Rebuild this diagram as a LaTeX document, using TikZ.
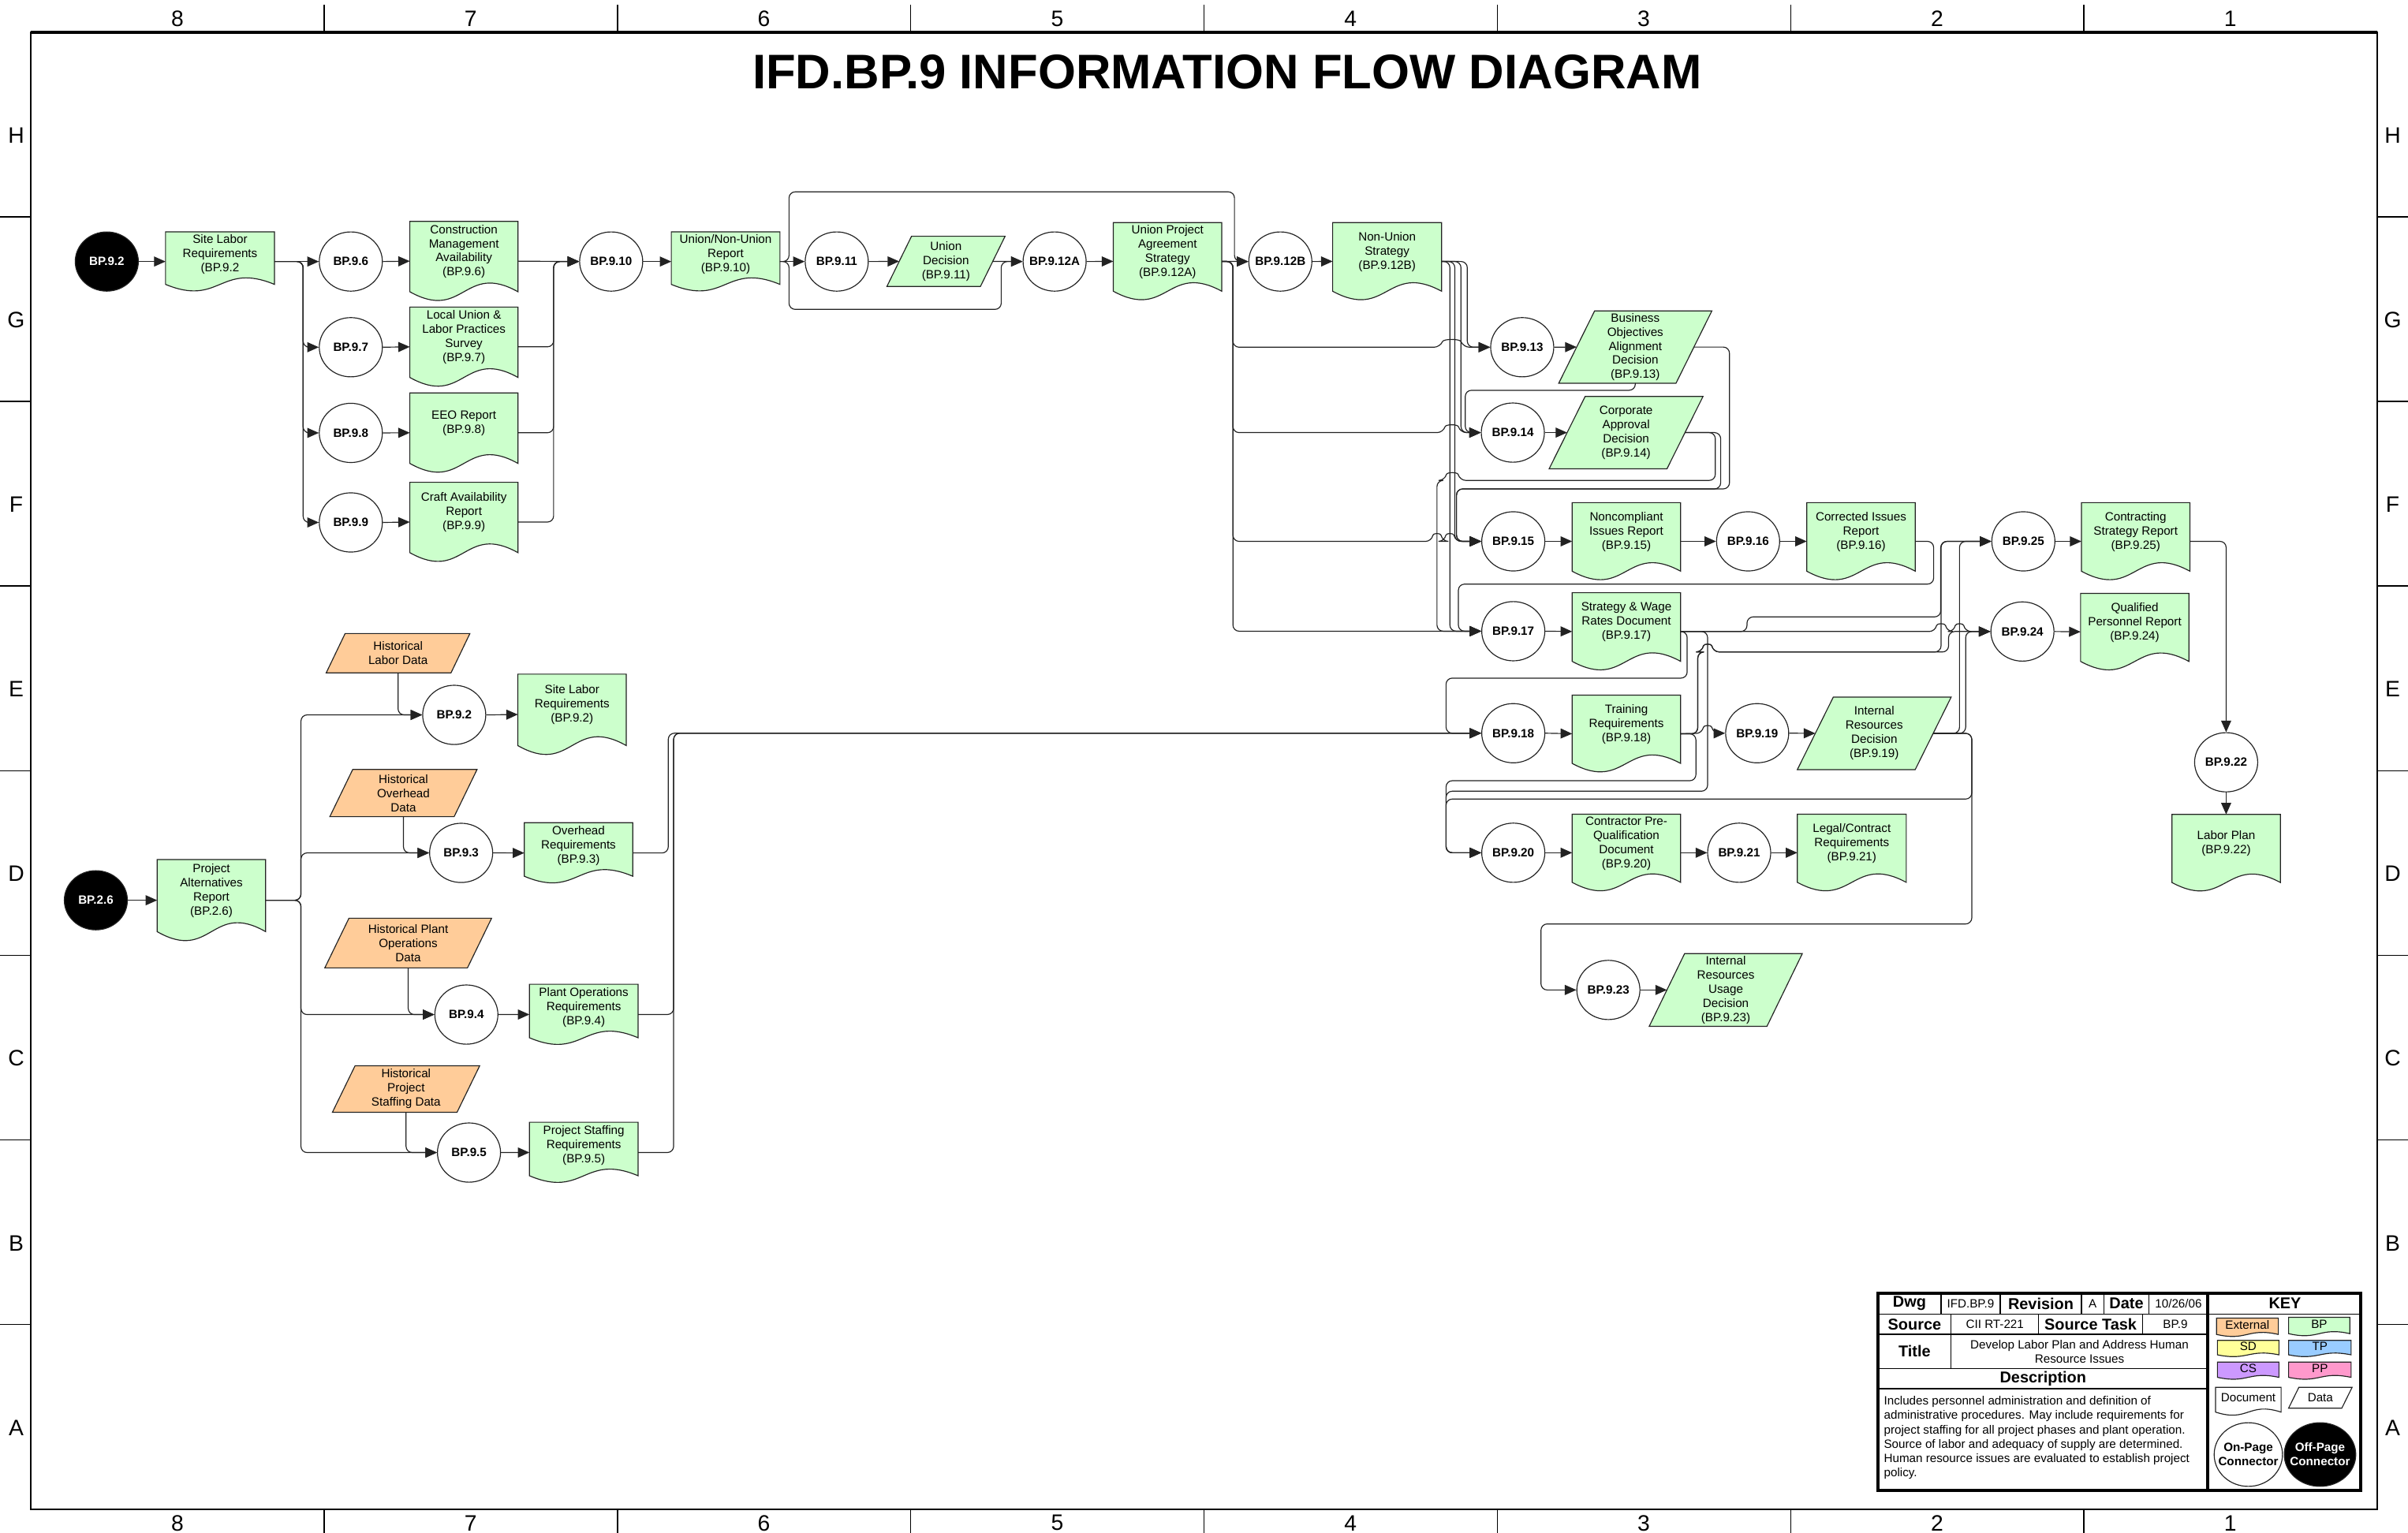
\documentclass[tikz,border=0pt]{standalone}
\usepackage{fontspec}
\setmainfont{Liberation Sans}
\usetikzlibrary{arrows.meta,shapes.geometric}
\definecolor{bpgreen}{HTML}{CCFFCC}
\definecolor{extorange}{HTML}{FFCC99}
\definecolor{sdyellow}{HTML}{FFFF99}
\definecolor{tpblue}{HTML}{99CCFF}
\definecolor{cspurple}{HTML}{CC99FF}
\definecolor{pppink}{HTML}{FF99CC}
\definecolor{lnc}{HTML}{222222}
\newcommand{\nf}{\fontsize{7.8}{9.2}\selectfont}
\newcommand{\bnf}{\fontsize{7.8}{9.2}\selectfont\bfseries}
\newcommand{\DocN}[7]{%
  \path[shapeline,fill=#6] ({#2-#4/2},{#3}) -- ({#2+#4/2},{#3}) -- ({#2+#4/2},{#3+0.885*#5})
    .. controls ({#2},{#3+0.505*#5}) and ({#2},{#3+1.265*#5}) .. ({#2-#4/2},{#3+0.885*#5}) -- cycle;
  \node[anchorbox,minimum width=#4pt,minimum height=#5pt] (#1) at ({#2},{#3+#5/2}) {};
  \node[txt] (#1t) at ({#2},{#3+0.38*#5}) {#7};}
\newcommand{\DataN}[8]{%
  \path[shapeline,fill=#7] ({#2-#4/2+#6},{#3-#5/2}) -- ({#2+#4/2},{#3-#5/2}) -- ({#2+#4/2-#6},{#3+#5/2}) -- ({#2-#4/2},{#3+#5/2}) -- cycle;
  \node[anchorbox,txt,minimum width={#4pt-#6pt},minimum height=#5pt] (#1) at ({#2},{#3}) {#8};}
\newcommand{\Proc}[4]{%
  \node[proc] (#1) at (#2,#3) {};
  \node[proct] (#1t) at (#1.center) {#4};}
\newcommand{\OffP}[4]{%
  \node[proc,fill=black] (#1) at (#2,#3) {};
  \node[proct,text=white] (#1t) at (#1.center) {#4};}
% line hop on a horizontal run: from x=#1 to x=#2 at height #3
\newcommand{\hop}[3]{-- (#1,#3) .. controls ({#1+(#2-#1)*0.15},{#3-5.5}) and ({#2-(#2-#1)*0.15},{#3-5.5}) .. (#2,#3)}
\begin{document}
\begin{tikzpicture}[x=1pt,y=-1pt,
  shapeline/.style={draw=lnc,line width=0.6pt},
  anchorbox/.style={rectangle,inner sep=0pt,outer sep=0pt},
  txt/.style={font=\nf,align=center,inner sep=0pt},
  proc/.style={ellipse,draw=lnc,line width=0.6pt,fill=white,minimum width=41pt,minimum height=38.5pt,inner sep=0pt},
  proct/.style={font=\bnf,inner sep=0pt,align=center},
  flow/.style={draw=lnc,line width=0.6pt,rounded corners=4pt,-{Triangle[length=7.5pt,width=6.5pt]}},
  framel/.style={line width=0.8pt},
  lbl/.style={font=\fontsize{14.5}{15}\selectfont,inner sep=0pt},
  tb/.style={line width=0.7pt},
  tbhead/.style={font=\fontsize{10.2}{11}\selectfont\bfseries,inner sep=0pt},
  tbval/.style={font=\nf,inner sep=0pt,align=center}]
\fill[white] (0,0) rectangle (1565,996.5);
\useasboundingbox (0,0) rectangle (1565,996.5);
% ---------- frame ----------
\draw[framel] (20,21) rectangle (1545,981);
\draw[line width=1.6pt] (20,21) -- (1545,21);
\foreach \x in {210.6,401.3,591.9,782.5,973.1,1163.8,1354.4} {\draw[framel] (\x,3) -- (\x,21); \draw[framel] (\x,981) -- (\x,997);}
\foreach \y in {141,261,381,501,621,741,861} {\draw[framel] (0,\y) -- (20,\y); \draw[framel] (1545,\y) -- (1565,\y);}
\foreach \lab [count=\i from 0] in {8,7,6,5,4,3,2,1} {\node[lbl] (ct\i) at ({115.3+190.6*\i},12) {\lab}; \node[lbl] (cb\i) at ({115.3+190.6*\i},990) {\lab};}
\foreach \lab [count=\i from 0] in {H,G,F,E,D,C,B,A} {\node[lbl] (rl\i) at (10.5,{88+120*\i}) {\lab}; \node[lbl] (rr\i) at (1555,{88+120*\i}) {\lab};}
\node[font=\fontsize{31.6}{32}\selectfont\bfseries,inner sep=0pt] (title) at (797.5,47) {IFD.BP.9 INFORMATION FLOW DIAGRAM};
% ---------- top-left group ----------
\OffP{off92}{69.4}{170}{BP.9.2}
\DocN{d92a}{143}{150.7}{70.8}{38.6}{bpgreen}{Site Labor\\Requirements\\(BP.9.2}
\Proc{c96}{228}{170}{BP.9.6}
\Proc{c97}{228}{225.7}{BP.9.7}
\Proc{c98}{228}{281.4}{BP.9.8}
\Proc{c99}{228}{339.6}{BP.9.9}
\DocN{d96}{301.5}{143.9}{70.3}{51.7}{bpgreen}{Construction\\Management\\Availability\\(BP.9.6)}
\DocN{d97}{301.5}{199.6}{70.3}{51.7}{bpgreen}{Local Union \&\\Labor Practices\\Survey\\(BP.9.7)}
\DocN{d98}{301.5}{255.4}{70.3}{51.8}{bpgreen}{EEO Report\\(BP.9.8)}
\DocN{d99}{301.5}{313.5}{70.3}{51.7}{bpgreen}{Craft Availability\\Report\\(BP.9.9)}
\Proc{c910}{397.2}{170}{BP.9.10}
\DocN{d910}{471.6}{150.7}{70.6}{38.6}{bpgreen}{Union/Non-Union\\Report\\(BP.9.10)}
\Proc{c911}{543.8}{170}{BP.9.11}
\DataN{u911}{614.8}{169.9}{76.8}{32.6}{16}{bpgreen}{Union\\Decision\\(BP.9.11)}
\Proc{c912A}{685.4}{170}{BP.9.12A}
\DocN{d912A}{758.8}{144.7}{70.5}{50.4}{bpgreen}{Union Project\\Agreement\\Strategy\\(BP.9.12A)}
\Proc{c912B}{832.1}{170}{BP.9.12B}
\DocN{d912B}{901.5}{144.7}{70.8}{50.4}{bpgreen}{Non-Union\\Strategy\\(BP.9.12B)}
% ---------- right cluster ----------
\Proc{c913}{989.3}{225.7}{BP.9.13}
\DataN{u913}{1062.8}{225.6}{99.5}{47}{23.3}{bpgreen}{Business\\Objectives\\Alignment\\Decision\\(BP.9.13)}
\Proc{c914}{983.2}{281.2}{BP.9.14}
\DataN{u914}{1056.8}{281.2}{100}{47}{23.4}{bpgreen}{Corporate\\Approval\\Decision\\(BP.9.14)}
\Proc{c915}{983.5}{351.9}{BP.9.15}
\DocN{d915}{1057}{326.7}{70.5}{50.4}{bpgreen}{Noncompliant\\Issues Report\\(BP.9.15)}
\Proc{c916}{1136.1}{351.9}{BP.9.16}
\DocN{d916}{1209.5}{326.7}{70.5}{50.4}{bpgreen}{Corrected Issues\\Report\\(BP.9.16)}
\Proc{c917}{983.5}{410.3}{BP.9.17}
\DocN{d917}{1057}{385.3}{70.5}{50.4}{bpgreen}{Strategy \& Wage\\Rates Document\\(BP.9.17)}
\Proc{c918}{983.5}{476.6}{BP.9.18}
\DocN{d918}{1057}{451.9}{70.5}{50.1}{bpgreen}{Training\\Requirements\\(BP.9.18)}
\Proc{c919}{1142}{476.6}{BP.9.19}
\DataN{u919}{1218.1}{476.7}{100}{47.2}{23.4}{bpgreen}{Internal\\Resources\\Decision\\(BP.9.19)}
\Proc{c920}{983.5}{554.3}{BP.9.20}
\DocN{d920}{1057}{529.3}{70.5}{50}{bpgreen}{Contractor Pre-\\Qualification\\Document\\(BP.9.20)}
\Proc{c921}{1130.3}{554.3}{BP.9.21}
\DocN{d921}{1203.5}{529.3}{70.8}{50}{bpgreen}{Legal/Contract\\Requirements\\(BP.9.21)}
\Proc{c923}{1045.3}{643.5}{BP.9.23}
\DataN{u923}{1121.6}{643.5}{99.5}{47.3}{23}{bpgreen}{Internal\\Resources\\Usage\\Decision\\(BP.9.23)}
\Proc{c925}{1315}{351.9}{BP.9.25}
\DocN{d925}{1388}{326.7}{70.5}{50.4}{bpgreen}{Contracting\\Strategy Report\\(BP.9.25)}
\Proc{c924}{1314.4}{410.5}{BP.9.24}
\DocN{d924}{1387.4}{385.7}{70.4}{50}{bpgreen}{Qualified\\Personnel Report\\(BP.9.24)}
\Proc{c922}{1446.8}{495.5}{BP.9.22}
\DocN{d922}{1446.8}{529.4}{70.5}{50}{bpgreen}{Labor Plan\\(BP.9.22)}
% ---------- lower-left group ----------
\OffP{off26}{62.3}{585.2}{BP.2.6}
\DocN{d26}{137.4}{558.7}{70.5}{53}{bpgreen}{Project\\Alternatives\\Report\\(BP.2.6)}
\DataN{e1}{258.7}{424.6}{93.4}{25.6}{12.3}{extorange}{Historical\\Labor Data}
\Proc{c92b}{295.2}{464.7}{BP.9.2}
\DocN{d92b}{371.8}{438.2}{70.5}{52.5}{bpgreen}{Site Labor\\Requirements\\(BP.9.2)}
\DataN{e2}{262.2}{515.5}{95.7}{30.7}{14.9}{extorange}{Historical\\Overhead\\Data}
\Proc{c93}{299.7}{554.4}{BP.9.3}
\DocN{d93}{376}{534.8}{70.5}{39.3}{bpgreen}{Overhead\\Requirements\\(BP.9.3)}
\DataN{e3}{265.3}{613}{108.4}{32.3}{15.7}{extorange}{Historical Plant\\Operations\\Data}
\Proc{c94}{303.1}{659.5}{BP.9.4}
\DocN{d94}{379.4}{639.8}{70.6}{39.3}{bpgreen}{Plant Operations\\Requirements\\(BP.9.4)}
\DataN{e4}{263.9}{707.9}{95.7}{30.2}{14.7}{extorange}{Historical\\Project\\Staffing Data}
\Proc{c95}{304.8}{749.2}{BP.9.5}
\DocN{d95}{379.4}{729.5}{70.6}{39.3}{bpgreen}{Project Staffing\\Requirements\\(BP.9.5)}
% ---------- connectors: top ----------
\draw[flow] (off92.east) -- (d92a.west);
\draw[flow] (d92a.east) -- (c96.west);
\draw[flow] (d92a.east) -- (197,170) |- (c97.west);
\draw[flow] (d92a.east) -- (197,170) |- (c98.west);
\draw[flow] (d92a.east) -- (197,170) |- (c99.west);
\foreach \n in {96,97,98,99} {\draw[flow] (c\n.east) -- (d\n.west);}
\draw[flow] (d96.east) -- (c910.west);
\foreach \n in {97,98,99} {\draw[flow] (d\n.east) -| (359.8,170) -- (c910.west);}
\draw[flow] (c910.east) -- (d910.west);
\draw[flow] (d910.east) -- (c911.west);
\draw[flow] (d910.east) -- (512.8,170) -- (512.8,124.7) -- (802.3,124.7) -- (802.3,170) -- (c912B.west);
\draw[flow] (d910.east) -- (512.8,170) -- (512.8,201.1) -- (650.7,201.1) -- (650.7,170) -- (c912A.west);
\draw[flow] (c911.east) -- (u911.west);
\draw[flow] (u911.east) -- (c912A.west);
\draw[flow] (c912A.east) -- (d912A.west);
\draw[flow] (d912A.east) -- (c912B.west);
\draw[flow] (c912B.east) -- (d912B.west);
\draw[flow] (d912A.east) -- (801.3,170) -- (801.3,225.7) \hop{936}{951}{225.7} -- (c913.west);
\draw[flow] (d912A.east) -- (801.3,170) -- (801.3,281.2) \hop{938}{949}{281.2} -- (c914.west);
\draw[flow] (d912A.east) -- (801.3,170) -- (801.3,351.9) \hop{930.5}{937.3}{351.9} \hop{938.9}{945.7}{351.9} -- (c915.west);
\draw[flow] (d912A.east) -- (801.3,170) |- (c917.west);
\draw[flow] (d912B.east) -- (953.6,170) |- (c913.west);
\draw[flow] (d912B.east) -- (949.5,170) |- (c914.west);
\draw[flow] (d912B.east) -- (945.5,170) |- (c915.west);
\draw[flow] (d912B.east) -- (942.3,170) |- (c917.west);
% ---------- connectors: right cluster ----------
\draw[flow] (c913.east) -- (u913.west);
\draw[flow] (u913.south) -- (1062.8,253.7) -- (952.3,253.7) -- (952.3,281.2) -- (c914.west);
\draw[flow] (u913.east) -- (1124,225.6) -- (1124,317.8) -- (946.6,317.8) -- (946.6,351.9) -- (c915.west);
\draw[flow] (c914.east) -- (u914.west);
\draw[flow] (u914.east) -- (1114.8,281.2) -- (1114.8,312.3) \hop{948.7}{939}{312.3} -- (933.9,312.3) -- (933.9,410.3) -- (c917.west);
\draw[flow] (u914.east) -- (1118.3,281.2) -- (1118.3,317.8) -- (946.6,317.8) -- (946.6,351.9) -- (c915.west);
\draw[flow] (c915.east) -- (d915.west);
\draw[flow] (d915.east) -- (c916.west);
\draw[flow] (c916.east) -- (d916.west);
\draw[flow] (d916.east) -- (1256.7,351.9) -- (1256.7,379.7) -- (947.8,379.7) -- (947.8,410.3) -- (c917.west);
\draw[flow] (c917.east) -- (d917.west);
\draw[flow] (d917.east) -- (1135.4,410.5) -- (1135.4,401) -- (1261.3,401) -- (1261.3,351.9) -- (c925.west);
\draw[flow] (d917.east) \hop{1257.8}{1265.2}{410.5} \hop{1270}{1277}{410.5} -- (c924.west);
\draw[flow] (d917.east) -- (1096.5,410.5) -- (1096.5,440.8) -- (939.8,440.8) -- (939.8,476.6) -- (c918.west);
\draw[flow] (d917.east) -- (1109.8,410.5) -- (1109.8,514.3) -- (939.8,514.3) -- (939.8,554.3) -- (c920.west);
\draw[flow] (c918.east) -- (d918.west);
\draw[flow] (d918.east) \hop{1106.3}{1113.3}{476.7} -- (c919.west);
\draw[flow] (d918.east) -- (1102.2,477) -- (1102.2,507.5) -- (939.8,507.5) -- (939.8,554.3) -- (c920.west);
\draw[flow] (d918.east) -- (1103.4,477) -- (1103.4,423.8) \hop{1106.3}{1113.3}{423.8} -- (1266.4,423.8) -- (1266.4,410.5) -- (c924.west);
\draw[flow] (d918.east) -- (1103.4,477) -- (1103.4,423.8) \hop{1106.3}{1113.3}{423.8} -- (1261.5,423.8) -- (1261.5,351.9) -- (c925.west);
\draw[flow] (c919.east) -- (u919.west);
\draw[flow] (u919.east) -- (1273.5,476.7) -- (1273.5,351.9) -- (c925.west);
\draw[flow] (u919.east) -- (1277.5,476.7) -- (1277.5,410.5) -- (c924.west);
\draw[flow] (u919.east) -- (1281.5,476.7) -- (1281.5,519.4) -- (939.8,519.4) -- (939.8,554.3) -- (c920.west);
\draw[flow] (u919.east) -- (1281.5,476.7) -- (1281.5,600.6) -- (1001.5,600.6) -- (1001.5,643.5) -- (c923.west);
\draw[flow] (c920.east) -- (d920.west);
\draw[flow] (d920.east) -- (c921.west);
\draw[flow] (c921.east) -- (d921.west);
\draw[flow] (c923.east) -- (u923.west);
\draw[flow] (c925.east) -- (d925.west);
\draw[flow] (c924.east) -- (d924.west);
\draw[flow] (d925.east) -| (c922.north);
\draw[flow] (c922.south) -- (d922.north);
% ---------- connectors: lower-left ----------
\draw[flow] (off26.east) -- (d26.west);
\foreach \n in {92b,93,94,95} {\draw[flow] (d26.east) -- (195.6,585.2) |- (c\n.west);}
\draw[flow] (e1.south) |- (c92b.west);
\draw[flow] (e2.south) |- (c93.west);
\draw[flow] (e3.south) |- (c94.west);
\draw[flow] (e4.south) |- (c95.west);
\foreach \n in {92b,93,94,95} {\draw[flow] (c\n.east) -- (d\n.west);}
\draw[flow] (d93.east) -| (434.3,476.6) -- (c918.west);
\draw[flow] (d94.east) -| (437.8,476.6) -- (c918.west);
\draw[flow] (d95.east) -| (437.8,476.6) -- (c918.west);
% ---------- title block ----------
\draw[tb] (1220.6,854.3) -- (1534.3,854.3);
\draw[tb] (1220.6,867.4) -- (1435,867.4);
\draw[tb] (1220.6,889.7) -- (1435,889.7);
\draw[tb] (1220.6,902.6) -- (1435,902.6);
\foreach \x in {1261.5,1299.9,1352.8,1367.3,1396.6} {\draw[tb] (\x,840.5) -- (\x,854.3);}
\foreach \x in {1268,1324.9,1392.5} {\draw[tb] (\x,854.3) -- (\x,867.4);}
\draw[tb] (1268,867.4) -- (1268,889.7);
\draw[line width=2pt] (1220.6,840.5) rectangle (1534.3,969);
\draw[line width=2pt] (1435,840.5) -- (1435,969);
\node[tbhead] (tDwg) at (1241,847.4) {Dwg};
\node[tbval] (tDwgv) at (1280.7,847.4) {IFD.BP.9};
\node[tbhead] (tRev) at (1326.35,847.4) {Revision};
\node[tbval] (tRevv) at (1360,847.4) {A};
\node[tbhead] (tDate) at (1382,847.4) {Date};
\node[tbval] (tDatev) at (1415.8,847.4) {10/26/06};
\node[tbhead] (tSrc) at (1244.3,860.85) {Source};
\node[tbval] (tSrcv) at (1296.5,860.85) {CII RT-221};
\node[tbhead] (tST) at (1358.7,860.85) {Source Task};
\node[tbval] (tSTv) at (1413.75,860.85) {BP.9};
\node[tbhead] (tTitle) at (1244.3,878.5) {Title};
\node[tbval] (tTitlev) at (1351.5,878.5) {Develop Labor Plan and Address Human\\Resource Issues};
\node[tbhead] (tDesc) at (1327.8,896.1) {Description};
\node[font=\fontsize{7.8}{9.3}\selectfont,align=left,inner sep=0pt,anchor=north west] (tDescv) at (1224.2,907.5) {Includes personnel administration and definition of\\administrative procedures. May include requirements for\\project staffing for all project phases and plant operation.\\Source of labor and adequacy of supply are determined.\\Human resource issues are evaluated to establish project\\policy.};
\node[tbhead] (tKey) at (1485,847.4) {KEY};
\DocN{kext}{1460.6}{856.8}{40.2}{12}{extorange}{External}
\DocN{kbp}{1507.3}{856.3}{39.8}{12}{bpgreen}{BP}
\DocN{ksd}{1461.1}{871.3}{40}{10.6}{sdyellow}{SD}
\DocN{ktp}{1507.7}{871.3}{40.6}{10.6}{tpblue}{TP}
\DocN{kcs}{1461.1}{885.4}{40}{11.2}{cspurple}{CS}
\DocN{kpp}{1507.7}{885.4}{40.6}{11.2}{pppink}{PP}
\DocN{kdoc}{1461.2}{901.8}{42.6}{18.2}{white}{Document}
\DataN{kdata}{1508}{908.6}{41.3}{13.6}{6.7}{white}{Data}
\node[proc,minimum width=44.4pt,minimum height=41.4pt] (kon) at (1461.2,945.5) {};
\node[proct] (kont) at (kon.center) {On-Page\\Connector};
\node[proc,fill=black,minimum width=46.5pt,minimum height=41.4pt] (koff) at (1507.8,945.5) {};
\node[proct,text=white] (kofft) at (koff.center) {Off-Page\\Connector};
\end{tikzpicture}
\end{document}
